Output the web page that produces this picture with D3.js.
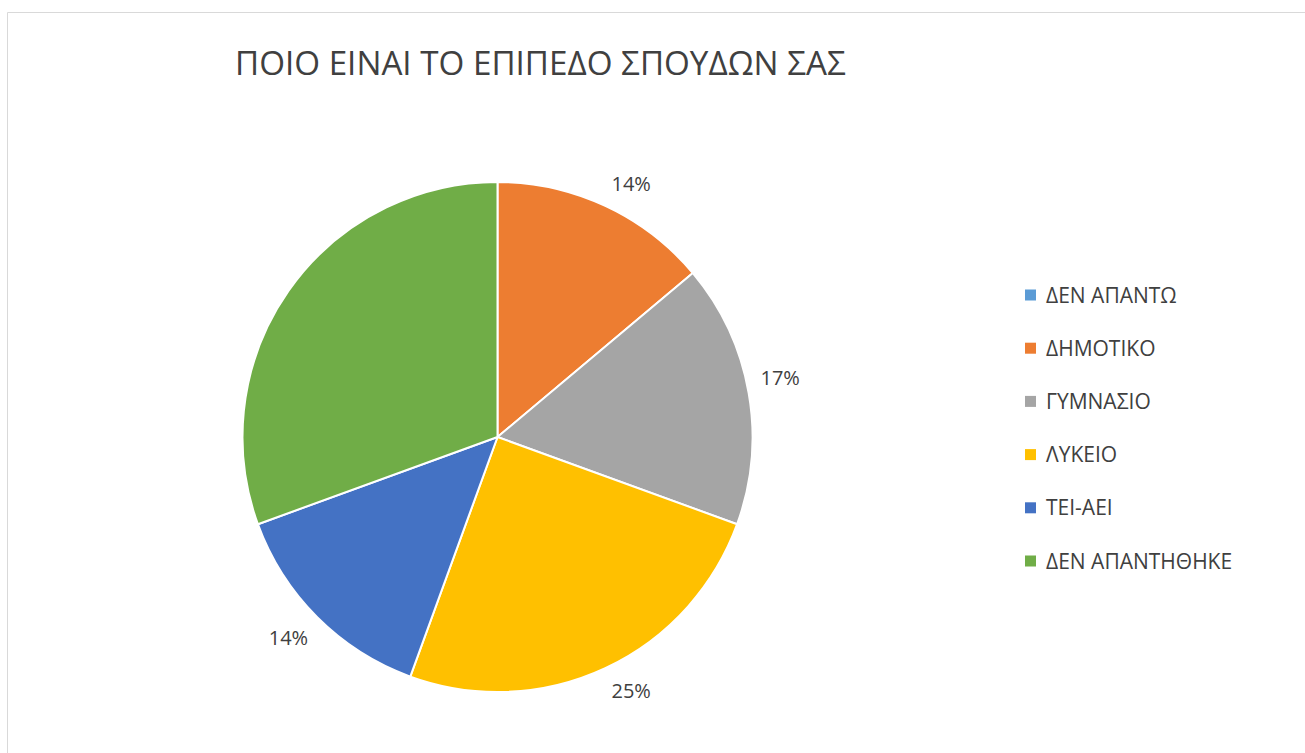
<!DOCTYPE html>
<html>
<head>
<meta charset="utf-8">
<script src="https://cdn.jsdelivr.net/npm/d3@7"></script>
<style>
  html, body { margin: 0; padding: 0; background: #fff; }
  svg { display: block; }
  text { font-family: "Open Sans", "Noto Sans", sans-serif; }
</style>
</head>
<body>
<svg id="chart" width="1305" height="753"></svg>
<script>
const title = "ΠΟΙΟ ΕΙΝΑΙ ΤΟ ΕΠΙΠΕΔΟ ΣΠΟΥΔΩΝ ΣΑΣ";
const categories = ["ΔΕΝ ΑΠΑΝΤΩ", "ΔΗΜΟΤΙΚΟ", "ΓΥΜΝΑΣΙΟ", "ΛΥΚΕΙΟ", "ΤΕΙ-ΑΕΙ", "ΔΕΝ ΑΠΑΝΤΗΘΗΚΕ"];
const values = [0, 5, 6, 9, 5, 11];
const showLabel = [false, true, true, true, true, false];
const colors = ["#5B9BD5", "#ED7D31", "#A5A5A5", "#FFC000", "#4472C4", "#70AD47"];

const svg = d3.select("#chart");
const W = 1305, H = 753;

// chart border (top and left visible)
svg.append("path")
  .attr("d", `M7.5,${H} V12.5 H${W}`)
  .attr("fill", "none").attr("stroke", "#d9d9d9").attr("stroke-width", 1);

svg.append("text")
  .attr("x", 235).attr("y", 75)
  .attr("font-size", 33.2)
  .attr("fill", "#404040")
  .text(title);

const cx = 497.5, cy = 437, r = 255;
const total = d3.sum(values);
const pie = d3.pie().sort(null).value(d => d)(values);
const arc = d3.arc().innerRadius(0).outerRadius(r);
const anchorArc = d3.arc().innerRadius(r + 10).outerRadius(r + 10);

const g = svg.append("g").attr("transform", `translate(${cx},${cy})`);
g.selectAll("path.slice").data(pie).join("path")
  .attr("class", "slice")
  .attr("d", arc)
  .attr("fill", (d, i) => colors[i])
  .attr("stroke", "#fff").attr("stroke-width", 2).attr("stroke-linejoin", "round");

const fmt = d3.format(".0%");
const lbls = g.selectAll("text.lbl").data(pie.filter((d, i) => showLabel[i] && values[i] > 0)).join("text")
  .attr("class", "lbl")
  .attr("text-anchor", "middle")
  .attr("dy", "0.36em")
  .attr("font-size", 20)
  .attr("fill", "#404040")
  .text(d => fmt(d.value / total));
// outside-end placement: box corner touches anchor point beyond the arc
lbls.each(function(d) {
  const bb = this.getBBox();
  const a = (d.startAngle + d.endAngle) / 2;
  const [px, py] = anchorArc.centroid(d);
  const ox = Math.sign(Math.sin(a)) * (bb.width / 2 + 2);
  const oy = -Math.sign(Math.cos(a)) * (bb.height / 2);
  d3.select(this).attr("transform", `translate(${px + ox},${py + oy})`);
});

const leg = svg.append("g");
const ly = d3.scalePoint().domain(categories).range([295, 561]);
const items = leg.selectAll("g").data(categories).join("g")
  .attr("transform", d => `translate(1025,${ly(d)})`);
items.append("rect").attr("x", 0).attr("y", -5.5).attr("width", 11).attr("height", 11)
  .attr("fill", (d, i) => colors[i]);
items.append("text").attr("x", 21).attr("dy", "0.36em")
  .attr("font-size", 21).attr("fill", "#404040")
  .text(d => d);
</script>
</body>
</html>
